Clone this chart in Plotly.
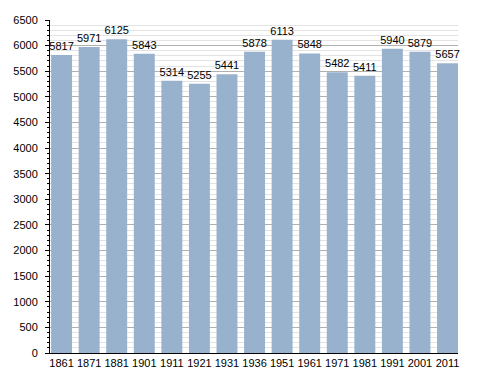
import plotly.graph_objects as go

years = ["1861", "1871", "1881", "1901", "1911", "1921", "1931", "1936",
         "1951", "1961", "1971", "1981", "1991", "2001", "2011"]
population = [5817, 5971, 6125, 5843, 5314, 5255, 5441, 5878,
              6113, 5848, 5482, 5411, 5940, 5879, 5657]

fig = go.Figure(go.Bar(
    x=list(range(len(years))), y=population,
    text=[str(v) for v in population], textposition="outside",
    textfont=dict(size=11, color="black", family="Liberation Sans, Arial, sans-serif"),
    marker=dict(color="#98b2cd", line=dict(width=0)),
    width=0.76, cliponaxis=False, constraintext="none", hoverinfo="skip",
))

fig.update_layout(
    width=488, height=373,
    margin=dict(l=50, r=30, t=20, b=20, autoexpand=False),
    paper_bgcolor="white", plot_bgcolor="white",
    font=dict(family="Liberation Sans, Arial, sans-serif", size=11, color="black"),
    showlegend=False,
)
fig.update_xaxes(
    tickmode="array", tickvals=list(range(len(years))), ticktext=years,
    range=[-0.42, 14.38], showline=True, linecolor="black", linewidth=1,
    showgrid=False, ticks="", tickfont=dict(size=11), automargin=False,
)
fig.update_yaxes(
    range=[0, 6500], dtick=500, showline=True, linecolor="black", linewidth=1,
    showgrid=True, gridcolor="#b0b0b0", gridwidth=1,
    ticks="outside", ticklen=4, tickcolor="black", ticklabelstandoff=5,
    minor=dict(dtick=100, showgrid=True, gridcolor="#e3e3e3", ticks="outside",
               ticklen=2, tickcolor="black"),
    tickfont=dict(size=11), zeroline=False, automargin=False,
)

fig.write_html("out.html", post_script="document.body.style.margin='0';",
               config={"displayModeBar": False})
